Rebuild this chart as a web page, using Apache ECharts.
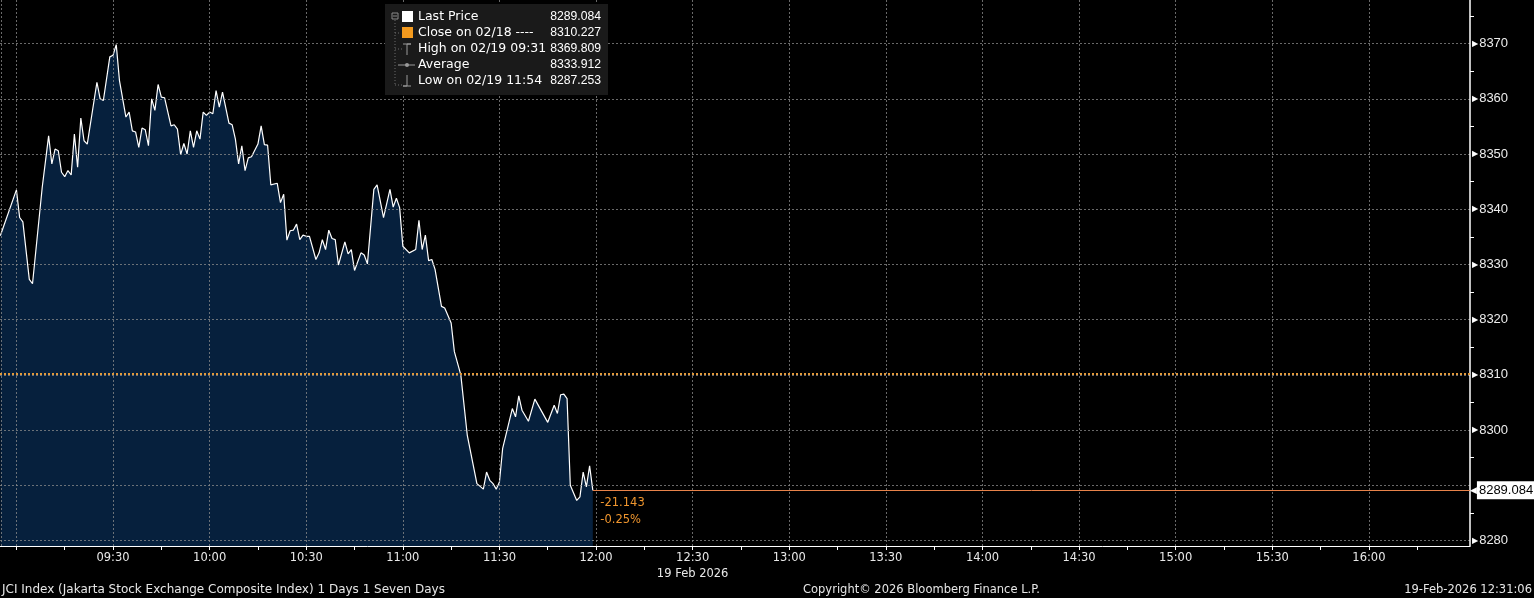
<!DOCTYPE html>
<html>
<head>
<meta charset="utf-8">
<title>JCI Index</title>
<script src="https://cdn.jsdelivr.net/npm/echarts@6/dist/echarts.min.js"></script>
<style>
  html, body { margin: 0; padding: 0; background: #000; }
  #chart { width: 1534px; height: 598px; }
</style>
</head>
<body>
<div id="chart"></div>
<script>
// JCI intraday, 19 Feb 2026
const times = [
  '08:55', '09:00', '09:01', '09:02', '09:04', '09:05', '09:08', '09:10', '09:11', '09:12',
  '09:13', '09:14', '09:15', '09:16', '09:17', '09:18', '09:19', '09:20', '09:21', '09:22',
  '09:25', '09:26', '09:27', '09:29', '09:30', '09:31', '09:32', '09:34', '09:35', '09:36',
  '09:37', '09:38', '09:39', '09:40', '09:41', '09:42', '09:43', '09:44', '09:45', '09:46',
  '09:48', '09:49', '09:50', '09:51', '09:52', '09:53', '09:54', '09:55', '09:56', '09:57',
  '09:58', '09:59', '10:00', '10:01', '10:02', '10:03', '10:04', '10:06', '10:07', '10:08',
  '10:09', '10:10', '10:11', '10:12', '10:13', '10:15', '10:16', '10:17', '10:18', '10:19',
  '10:21', '10:22', '10:23', '10:24', '10:25', '10:26', '10:27', '10:28', '10:29', '10:30',
  '10:31', '10:33', '10:34', '10:35', '10:36', '10:37', '10:38', '10:39', '10:40', '10:42',
  '10:43', '10:44', '10:45', '10:47', '10:48', '10:49', '10:51', '10:52', '10:54', '10:56',
  '10:57', '10:58', '10:59', '11:00', '11:02', '11:04', '11:05', '11:06', '11:07', '11:08',
  '11:09', '11:10', '11:12', '11:13', '11:15', '11:16', '11:18', '11:20', '11:23', '11:25',
  '11:26', '11:27', '11:28', '11:29', '11:30', '11:31', '11:33', '11:34', '11:35', '11:36',
  '11:37', '11:39', '11:41', '11:45', '11:47', '11:48', '11:49', '11:50', '11:51', '11:52',
  '11:54', '11:55', '11:56', '11:57', '11:58', '11:59'
];
const prices = [
  8335.2, 8343.5, 8338.5, 8337.7, 8327.3, 8326.5, 8343.9, 8353.3, 8348.2, 8350.9,
  8350.6, 8346.7, 8345.9, 8347.0, 8346.2, 8353.6, 8347.6, 8356.5, 8352.4, 8351.8,
  8363.0, 8360.0, 8359.7, 8367.6, 8367.9, 8369.809, 8363.3, 8356.7, 8357.6, 8354.2,
  8354.0, 8351.2, 8354.7, 8354.4, 8351.5, 8360.0, 8357.9, 8362.6, 8360.3, 8360.2,
  8355.1, 8355.3, 8354.5, 8349.9, 8351.9, 8350.0, 8354.2, 8351.2, 8354.2, 8352.7,
  8357.6, 8357.0, 8357.6, 8357.3, 8361.5, 8358.5, 8361.2, 8355.6, 8355.3, 8352.7,
  8348.2, 8351.5, 8347.0, 8349.3, 8349.5, 8351.8, 8355.1, 8351.7, 8351.6, 8344.4,
  8344.7, 8341.2, 8342.7, 8334.4, 8336.1, 8336.2, 8337.3, 8334.5, 8335.3, 8335.1,
  8335.1, 8330.9, 8332.1, 8334.5, 8332.7, 8336.2, 8334.7, 8334.5, 8329.9, 8334.1,
  8331.9, 8332.7, 8328.9, 8332.1, 8331.7, 8330.1, 8343.6, 8344.4, 8338.5, 8343.6,
  8340.4, 8342.0, 8340.3, 8333.3, 8332.1, 8332.7, 8338.0, 8332.7, 8335.3, 8330.7,
  8330.9, 8329.1, 8322.4, 8322.1, 8319.4, 8314.2, 8310.0, 8299.1, 8290.3, 8289.3,
  8292.4, 8290.9, 8290.3, 8289.3, 8290.6, 8296.7, 8301.5, 8303.9, 8302.4, 8306.2,
  8303.6, 8301.6, 8305.6, 8301.4, 8304.5, 8303.0, 8306.4, 8306.5, 8305.7, 8290.0,
  8287.253, 8287.9, 8292.4, 8289.7, 8293.5, 8289.084
];
const prevClose = 8310.227;
const average = 8333.912;

const yLabels = [8280, 8290, 8300, 8310, 8320, 8330, 8340, 8350, 8360, 8370];
const yMinorTicks = [8275, 8285, 8295, 8305, 8315, 8325, 8335, 8345, 8355, 8365, 8375];
const xLabels = ['09:30', '10:00', '10:30', '11:00', '11:30', '12:00', '12:30', '13:00',
  '13:30', '14:00', '14:30', '15:00', '15:30', '16:00'];
const xGridLines = ['09:00'].concat(xLabels);
const xTicks = ['09:00', '09:15', '09:30', '09:45', '10:00', '10:15', '10:30', '10:45',
  '11:00', '11:15', '11:30', '11:45', '12:00', '12:15', '12:30', '12:45', '13:00', '13:15',
  '13:30', '13:45', '14:00', '14:15', '14:30', '14:45', '15:00', '15:15', '15:30', '15:45',
  '16:00', '16:15'];
const dateLabelAt = '12:30';
const dateLabel = '19 Feb 2026';

const legendNames = ['Last Price', 'Close on 02/18 ----', 'High on 02/19 09:31', 'Average', 'Low on 02/19 11:54'];

function toMin(t) {
  return Number(t.slice(0, 2)) * 60 + Number(t.slice(3));
}
function pad(n) {
  return (n < 10 ? '0' : '') + n;
}
function fmtMin(m) {
  m = Math.round(m);
  return pad(Math.floor(m / 60)) + ':' + pad(m % 60);
}

const seriesData = times.map((t, i) => [toMin(t), prices[i]]);
const last = prices[prices.length - 1];
const lastMin = toMin(times[times.length - 1]);
const high = Math.max(...prices);
const low = Math.min(...prices);
const change = last - prevClose;
const changePct = (change / prevClose) * 100;

const legendValues = [last, prevClose, high, average, low].map((v) => v.toFixed(3));

// axis window (pixel layout of the terminal chart)
const X_MIN = 534.9;
const X_MAX = 991.4;
const Y_MIN = 8279.0;
const Y_MAX = 8377.9;

const gridColor = 'rgba(140,140,140,0.75)';
const axisFont = 'DejaVu Sans';
const numFont = 'Liberation Sans';

const myChart = echarts.init(document.getElementById('chart'), null, { renderer: 'canvas' });

// legend box (top)
const legendGraphics = [
  { type: 'rect', shape: { x: 385, y: 4, width: 223, height: 91 }, style: { fill: '#1a1a1a' }, z: 10 },
  // tree lines
  { type: 'rect', shape: { x: 392, y: 13, width: 6, height: 6 }, style: { fill: 'none', stroke: '#8a8a8a', lineWidth: 1 }, z: 11 },
  { type: 'line', shape: { x1: 393, y1: 16, x2: 397, y2: 16 }, style: { stroke: '#8a8a8a', lineWidth: 1 }, z: 11 },
  { type: 'line', shape: { x1: 395, y1: 20, x2: 395, y2: 85 }, style: { stroke: '#6a6a6a', lineWidth: 1, lineDash: [1, 2] }, z: 11 },
  { type: 'line', shape: { x1: 395, y1: 33, x2: 401, y2: 33 }, style: { stroke: '#6a6a6a', lineWidth: 1, lineDash: [1, 2] }, z: 11 },
  { type: 'line', shape: { x1: 395, y1: 49, x2: 402, y2: 49 }, style: { stroke: '#6a6a6a', lineWidth: 1, lineDash: [1, 2] }, z: 11 },
  { type: 'line', shape: { x1: 395, y1: 85, x2: 402, y2: 85 }, style: { stroke: '#6a6a6a', lineWidth: 1, lineDash: [1, 2] }, z: 11 },
  // swatches / markers
  { type: 'rect', shape: { x: 402, y: 11, width: 11, height: 11 }, style: { fill: '#ffffff' }, z: 11 },
  { type: 'rect', shape: { x: 402, y: 27, width: 11, height: 11 }, style: { fill: '#f39a1e' }, z: 11 },
  { type: 'polyline', shape: { points: [[403, 44], [411, 44], [407, 44], [407, 55]] }, style: { stroke: '#9a9a9a', lineWidth: 1, fill: 'none' }, z: 11 },
  { type: 'line', shape: { x1: 398, y1: 65, x2: 415, y2: 65 }, style: { stroke: '#9a9a9a', lineWidth: 1 }, z: 11 },
  { type: 'circle', shape: { cx: 407, cy: 65, r: 2 }, style: { fill: '#9a9a9a' }, z: 11 },
  { type: 'polyline', shape: { points: [[407, 75], [407, 86], [403, 86], [411, 86]] }, style: { stroke: '#9a9a9a', lineWidth: 1, fill: 'none' }, z: 11 }
];
legendNames.forEach((name, i) => {
  legendGraphics.push({
    type: 'text', z: 11,
    style: { x: 418, y: 17 + i * 16, text: name, fill: '#ffffff', font: '12.5px ' + axisFont, textVerticalAlign: 'middle', verticalAlign: 'middle' }
  });
  legendGraphics.push({
    type: 'text', z: 11,
    style: { x: 601, y: 17 + i * 16, text: legendValues[i], fill: '#ffffff', font: '12.2px ' + numFont, align: 'right', textAlign: 'right', verticalAlign: 'middle', textVerticalAlign: 'middle' }
  });
});

// footer
const footerGraphics = [
  { type: 'text', style: { x: 2, y: 590, text: 'JCI Index (Jakarta Stock Exchange Composite Index) 1 Days 1 Seven Days', fill: '#e6e6e6', font: '12px ' + axisFont, verticalAlign: 'middle', textVerticalAlign: 'middle' } },
  { type: 'text', style: { x: 803, y: 590, text: 'Copyright\u00A9 2026 Bloomberg Finance L.P.', fill: '#e6e6e6', font: '11.5px ' + axisFont, verticalAlign: 'middle', textVerticalAlign: 'middle' } },
  { type: 'text', style: { x: 1532, y: 590, text: '19-Feb-2026 12:31:06', fill: '#e6e6e6', font: '11.5px ' + axisFont, align: 'right', textAlign: 'right', verticalAlign: 'middle', textVerticalAlign: 'middle' } }
];

const option = {
  backgroundColor: '#000000',
  animation: false,
  grid: {
    left: 0,
    right: 64,
    top: 0,
    bottom: 52,
    containLabel: false,
    outerBoundsMode: 'none'
  },
  xAxis: [
    {
      type: 'value',
      min: X_MIN,
      max: X_MAX,
      position: 'bottom',
      axisLine: { show: true, onZero: false, lineStyle: { color: '#ffffff', width: 1 } },
      axisTick: { show: true, length: 4, customValues: xTicks.map(toMin), lineStyle: { color: '#ffffff' } },
      axisLabel: {
        show: true,
        customValues: xLabels.map(toMin),
        margin: 4,
        color: '#e8e8e8',
        fontFamily: axisFont,
        fontSize: 11.5,
        lineHeight: 16,
        formatter: (v) => {
          const s = fmtMin(v);
          return s === dateLabelAt ? s + '\n' + dateLabel : s;
        }
      },
      splitLine: { show: false }
    },
    {
      // vertical grid lines every 30 min (plus the left border)
      type: 'value',
      min: X_MIN,
      max: X_MAX,
      position: 'bottom',
      axisLine: { show: false },
      axisTick: { show: false, customValues: [X_MIN + 0.3].concat(xGridLines.map(toMin)) },
      axisLabel: { show: false },
      splitLine: { show: true, lineStyle: { color: gridColor, type: [2, 2], width: 1 } }
    }
  ],
  yAxis: [
    {
      type: 'value',
      position: 'right',
      min: Y_MIN,
      max: Y_MAX,
      axisLine: { show: true, lineStyle: { color: '#ffffff', width: 1.5 } },
      axisTick: { show: false, customValues: yLabels },
      axisLabel: {
        show: true,
        // the last-price tag hides the label it sits on
        customValues: yLabels.filter((v) => Math.abs(v - last) > 2),
        margin: 2,
        formatter: (v) => '{a|\u25B6}{b|' + v + '}',
        rich: {
          a: { color: '#ffffff', fontSize: 8, fontFamily: axisFont, padding: [0, 1, 0, 0] },
          b: { color: '#ececec', fontSize: 13, fontFamily: numFont }
        }
      },
      splitLine: { show: true, lineStyle: { color: gridColor, type: [2, 2], width: 1 } }
    },
    {
      type: 'value',
      position: 'right',
      min: Y_MIN,
      max: Y_MAX,
      axisLine: { show: false },
      axisTick: { show: true, length: 4, customValues: yMinorTicks, lineStyle: { color: '#ffffff' } },
      axisLabel: { show: false },
      splitLine: { show: false }
    }
  ],
  series: [
    {
      name: 'Last Price',
      type: 'line',
      z: -1,
      xAxisIndex: 0,
      yAxisIndex: 0,
      data: seriesData,
      showSymbol: false,
      symbol: 'none',
      lineStyle: { color: '#ffffff', width: 1.2 },
      areaStyle: { color: '#06203d', opacity: 1, origin: 'start' }
    },
    {
      // reference lines and tags drawn above the axes
      name: 'markers',
      type: 'line',
      z: 5,
      xAxisIndex: 0,
      yAxisIndex: 0,
      data: [],
      markLine: {
        silent: true,
        symbol: ['none', 'none'],
        data: [
          {
            yAxis: prevClose,
            lineStyle: { color: '#e39a3b', type: [2, 2], width: 2 },
            label: { show: false }
          },
          [
            {
              coord: [lastMin, last],
              lineStyle: { color: '#e8834a', type: 'solid', width: 1 },
              label: {
                show: true,
                position: 'end',
                distance: 0,
                formatter: () => '{a|\u25C0}{b|' + last.toFixed(3) + '}',
                rich: {
                  a: { color: '#ffffff', fontSize: 9, fontFamily: axisFont },
                  b: { color: '#000000', backgroundColor: '#ffffff', fontSize: 13, fontFamily: numFont, padding: [3, 2, 2, 2] }
                }
              }
            },
            { coord: [X_MAX, last] }
          ]
        ]
      },
      markPoint: {
        silent: true,
        symbol: 'circle',
        symbolSize: 1,
        itemStyle: { color: 'rgba(0,0,0,0)' },
        data: [
          {
            coord: [lastMin, last],
            label: {
              show: true,
              position: [8, 5],
              align: 'left',
              verticalAlign: 'top',
              color: '#f0962e',
              fontFamily: axisFont,
              fontSize: 11.5,
              lineHeight: 17,
              formatter: () => change.toFixed(3) + '\n' + changePct.toFixed(2) + '%'
            }
          }
        ]
      }
    }
  ],
  graphic: legendGraphics.concat(footerGraphics)
};

myChart.setOption(option);
</script>
</body>
</html>
